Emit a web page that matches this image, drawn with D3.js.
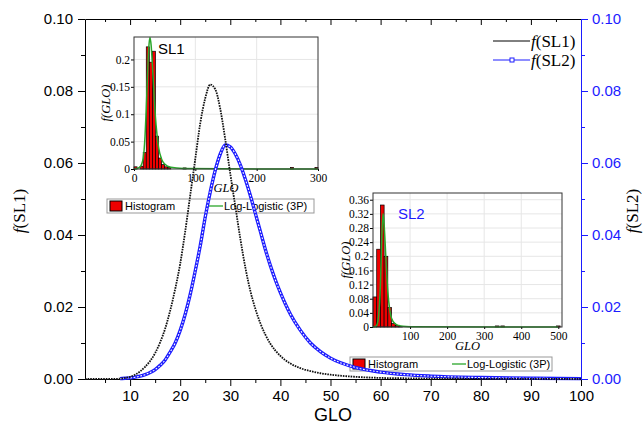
<!DOCTYPE html>
<html>
<head>
<meta charset="utf-8">
<script src="https://cdn.jsdelivr.net/npm/d3@7"></script>
<style>
    body { margin: 0; background: #fff; }
    svg { display: block; }
</style>
</head>
<body>
<script>
// main curves (GLO -> density)
const glo = [1, 6, 8, 9, 10, 11, 12, 13, 14, 15, 16, 17, 18, 19, 20, 21, 22, 23, 24, 25, 26, 27, 28, 29, 30,
    31, 32, 33, 34, 35, 36, 37, 38, 39, 40, 42, 44, 46, 48, 50, 55, 60, 65, 70, 80, 90, 100];
const fSL1 = [0, 0, 0.0001, 0.0003, 0.0006, 0.0012, 0.0021, 0.0034, 0.005, 0.0072, 0.0102, 0.014, 0.019, 0.025,
    0.032, 0.041, 0.051, 0.061, 0.071, 0.078, 0.0818, 0.0805, 0.075, 0.0665, 0.057, 0.048, 0.039, 0.031, 0.0245,
    0.0195, 0.0155, 0.0123, 0.0098, 0.0079, 0.0064, 0.0043, 0.003, 0.0022, 0.0016, 0.0012, 0.0006, 0.0003,
    0.0002, 0.0001, 0.00005, 0, 0];
const fSL2 = [0, 0, 0.0001, 0.0002, 0.0003, 0.0005, 0.0008, 0.0012, 0.0018, 0.0026, 0.0038, 0.0053, 0.0075, 0.010,
    0.0135, 0.018, 0.0235, 0.030, 0.037, 0.045, 0.052, 0.058, 0.0625, 0.065, 0.0645, 0.0625, 0.0595, 0.0555,
    0.051, 0.046, 0.041, 0.036, 0.0315, 0.0275, 0.024, 0.018, 0.0135, 0.010, 0.0076, 0.0058, 0.0032, 0.0019,
    0.0012, 0.0008, 0.0004, 0.0002, 0.0001];

// inset SL1 histogram (bin start, bin width 5) and fit
const hist1Bins = [0, 10, 15, 20, 25, 30, 35, 40, 45, 50, 55, 80, 255, 295];
const hist1Vals = [0.004, 0.005, 0.03, 0.223, 0.195, 0.215, 0.06, 0.02, 0.008, 0.004, 0.003, 0.002, 0.003, 0.003];
const fit1X = [0, 5, 10, 15, 18, 20, 22, 24, 26, 28, 30, 32, 34, 36, 40, 45, 50, 60, 80, 150, 300];
const fit1Y = [0, 0.001, 0.004, 0.02, 0.06, 0.11, 0.17, 0.22, 0.24, 0.225, 0.19, 0.15, 0.11, 0.08, 0.04, 0.018,
    0.009, 0.003, 0.001, 0.0003, 0];

// inset SL2 histogram (bin start, bin width 10) and fit
const hist2Bins = [0, 10, 20, 30, 40, 50, 60, 70, 330, 345, 495];
const hist2Vals = [0.085, 0.22, 0.345, 0.20, 0.055, 0.01, 0.004, 0.002, 0.003, 0.003, 0.003];
const fit2X = [0, 5, 10, 15, 20, 24, 27, 30, 35, 40, 45, 50, 60, 70, 80, 100, 500];
const fit2Y = [0, 0.001, 0.005, 0.03, 0.12, 0.26, 0.32, 0.29, 0.19, 0.10, 0.05, 0.025, 0.009, 0.004, 0.002, 0.001, 0];

const xTicks = d3.range(10, 101, 10);
const yTicks = [0, 0.02, 0.04, 0.06, 0.08, 0.10];
const inset1YTicks = [0, 0.05, 0.1, 0.15, 0.2];
const inset2YTicks = [0, 0.04, 0.08, 0.12, 0.16, 0.2, 0.24, 0.28, 0.32, 0.36];

const sans = "'Liberation Sans', Arial, sans-serif";
const serif = "'Liberation Serif', 'Times New Roman', serif";
const blue = "#1c1cff";

let svg = d3.select("body").append("svg")
    .attr("width", 643)
    .attr("height", 441);

// main scales
let x = d3.scaleLinear().domain([1, 100]).range([85, 581]);
let y = d3.scaleLinear().domain([0, 0.1]).range([379, 19]);

//Insets first, main curves go over them
function inset(opts) {
    let g = svg.append("g");
    let xs = d3.scaleLinear().domain(opts.xDomain).range(opts.xRange);
    let ys = d3.scaleLinear().domain(opts.yDomain).range(opts.yRange);

    g.append("rect")
        .attr("x", opts.xRange[0]).attr("y", opts.yRange[1])
        .attr("width", opts.xRange[1] - opts.xRange[0])
        .attr("height", opts.yRange[0] - opts.yRange[1])
        .attr("fill", "#fff");

    // grid
    g.selectAll(".gx").data(opts.xGrid).join("line")
        .attr("class", "gx")
        .attr("x1", (d) => xs(d)).attr("x2", (d) => xs(d))
        .attr("y1", opts.yRange[0]).attr("y2", opts.yRange[1])
        .attr("stroke", "#e6e6e6");
    g.selectAll(".gy").data(opts.yTicks.slice(1)).join("line")
        .attr("class", "gy")
        .attr("x1", opts.xRange[0]).attr("x2", opts.xRange[1])
        .attr("y1", (d) => ys(d)).attr("y2", (d) => ys(d))
        .attr("stroke", "#e6e6e6");

    // histogram
    g.selectAll(".bar").data(opts.bins).join("rect")
        .attr("class", "bar")
        .attr("x", (d) => xs(d))
        .attr("width", (d) => xs(d + opts.binW) - xs(d))
        .attr("y", (d, i) => ys(opts.vals[i]))
        .attr("height", (d, i) => ys(0) - ys(opts.vals[i]))
        .attr("fill", "#ee0000")
        .attr("stroke", "#000")
        .attr("stroke-width", 0.7);

    // fit line
    let line = d3.line()
        .x((d) => xs(d[0]))
        .y((d) => ys(d[1]))
        .curve(d3.curveMonotoneX);
    g.append("path")
        .datum(d3.zip(opts.fitX, opts.fitY))
        .attr("d", line)
        .attr("fill", "none")
        .attr("stroke", "#2aa62a")
        .attr("stroke-width", 1.5);

    // axes
    let xAx = g.append("g")
        .attr("transform", `translate(0,${opts.yRange[0]})`)
        .call(d3.axisBottom(xs).tickValues(opts.xTicks).tickSize(2).tickFormat(d3.format("d")));
    let yAx = g.append("g")
        .attr("transform", `translate(${opts.xRange[0]},0)`)
        .call(d3.axisLeft(ys).tickValues(opts.yTicks).tickSize(3).tickPadding(1).tickFormat((d) => d3.format("~g")(d)));
    [xAx, yAx].forEach((a) => {
        a.select(".domain").remove();
        a.selectAll("text").attr("font-family", serif).attr("font-size", "11.5px").attr("fill", "#000");
        a.selectAll("line").attr("stroke", "#000");
    });

    g.append("rect")
        .attr("x", opts.xRange[0]).attr("y", opts.yRange[1])
        .attr("width", opts.xRange[1] - opts.xRange[0])
        .attr("height", opts.yRange[0] - opts.yRange[1])
        .attr("fill", "none")
        .attr("stroke", "#333")
        .attr("stroke-width", 1);

    g.append("text")
        .attr("x", (opts.xRange[0] + opts.xRange[1]) / 2)
        .attr("y", opts.xLabelY)
        .attr("text-anchor", "middle")
        .attr("font-family", serif).attr("font-style", "italic").attr("font-size", "12.5px")
        .text("GLO");
    g.append("text")
        .attr("transform", `translate(${opts.yLabelX},${(opts.yRange[0] + opts.yRange[1]) / 2}) rotate(-90)`)
        .attr("text-anchor", "middle")
        .attr("font-family", serif).attr("font-style", "italic").attr("font-size", "12.5px")
        .text("f(GLO)");

    g.append("text")
        .attr("x", opts.titleX).attr("y", opts.titleY)
        .attr("font-family", sans).attr("font-size", "15px")
        .attr("fill", opts.titleColor)
        .text(opts.title);

    // legend
    let L = opts.legend;
    g.append("rect")
        .attr("x", L.x).attr("y", L.y).attr("width", L.w).attr("height", 14)
        .attr("fill", "#fff").attr("stroke", "#999");
    g.append("rect")
        .attr("x", L.x + 3).attr("y", L.y + 2).attr("width", 12).attr("height", 10)
        .attr("fill", "#ee0000").attr("stroke", "#000");
    g.append("text")
        .attr("x", L.x + 18).attr("y", L.y + 11)
        .attr("font-family", sans).attr("font-size", "11px")
        .text("Histogram");
    g.append("line")
        .attr("x1", L.lx).attr("x2", L.lx + 14).attr("y1", L.y + 7).attr("y2", L.y + 7)
        .attr("stroke", "#2aa62a").attr("stroke-width", 1.3);
    g.append("text")
        .attr("x", L.lx + 15).attr("y", L.y + 11)
        .attr("font-family", sans).attr("font-size", "11px")
        .text("Log-Logistic (3P)");
}

inset({
    xDomain: [0, 300], xRange: [134, 318],
    yDomain: [0, 0.241], yRange: [169, 37],
    xTicks: [0, 100, 200, 300], xGrid: [100, 200],
    yTicks: inset1YTicks,
    bins: hist1Bins, vals: hist1Vals, binW: 5,
    fitX: fit1X, fitY: fit1Y,
    xLabelY: 192, yLabelX: 110,
    title: "SL1", titleX: 158, titleY: 54, titleColor: "#000",
    legend: {x: 107, y: 199, w: 207, lx: 209}
});

inset({
    xDomain: [0, 510], xRange: [373, 562],
    yDomain: [0, 0.379], yRange: [327, 193],
    xTicks: [100, 200, 300, 400, 500], xGrid: [100, 200, 300, 400],
    yTicks: inset2YTicks,
    bins: hist2Bins, vals: hist2Vals, binW: 10,
    fitX: fit2X, fitY: fit2Y,
    xLabelY: 350, yLabelX: 350,
    title: "SL2", titleX: 398, titleY: 219, titleColor: blue,
    legend: {x: 350, y: 357, w: 202, lx: 452}
});

//Create main axes
let bottomAx = svg.append("g")
    .attr("transform", `translate(0,${y(0)})`)
    .call(d3.axisBottom(x).tickValues(xTicks).tickSize(7).tickPadding(4).tickSizeOuter(0));
bottomAx.selectAll("text").attr("font-family", sans).attr("font-size", "15px");
svg.append("g")
    .attr("transform", `translate(0,${y(0)})`)
    .call(d3.axisBottom(x).tickValues(d3.range(5, 100, 10)).tickSize(4).tickFormat(""))
    .select(".domain").remove();

svg.append("g")
    .attr("transform", `translate(0,${y(0.1)})`)
    .call(d3.axisBottom(x).tickValues(xTicks).tickSize(6).tickFormat("").tickSizeOuter(0));
svg.append("g")
    .attr("transform", `translate(0,${y(0.1)})`)
    .call(d3.axisBottom(x).tickValues(d3.range(5, 100, 10)).tickSize(3).tickFormat(""))
    .select(".domain").remove();

let leftAx = svg.append("g")
    .attr("transform", `translate(${x(1)},0)`)
    .call(d3.axisLeft(y).tickValues(yTicks).tickSize(7).tickPadding(5).tickSizeOuter(0).tickFormat(d3.format(".2f")));
leftAx.selectAll("text").attr("font-family", sans).attr("font-size", "15px");
svg.append("g")
    .attr("transform", `translate(${x(1)},0)`)
    .call(d3.axisLeft(y).tickValues([0.01, 0.03, 0.05, 0.07, 0.09]).tickSize(4).tickFormat(""))
    .select(".domain").remove();

let rightAx = svg.append("g")
    .attr("transform", `translate(${x(100)},0)`)
    .call(d3.axisRight(y).tickValues(yTicks).tickSize(7).tickPadding(4).tickSizeOuter(0).tickFormat(d3.format(".2f")));
rightAx.selectAll("text").attr("font-family", sans).attr("font-size", "15px").attr("fill", blue);
rightAx.selectAll("line, .domain").attr("stroke", blue);
svg.append("g")
    .attr("transform", `translate(${x(100)},0)`)
    .call(d3.axisRight(y).tickValues([0.01, 0.03, 0.05, 0.07, 0.09]).tickSize(4).tickFormat(""))
    .call((a) => a.select(".domain").remove())
    .selectAll("line").attr("stroke", blue);

//Axis titles
svg.append("text")
    .attr("x", (x(1) + x(100)) / 2).attr("y", 421)
    .attr("text-anchor", "middle")
    .attr("font-family", sans).attr("font-size", "18px")
    .text("GLO");

function fLabel(sel, txt) {
    sel.append("tspan").attr("font-style", "italic").text("f");
    sel.append("tspan").text(txt);
}
svg.append("text")
    .attr("transform", "translate(25,211) rotate(-90)")
    .attr("text-anchor", "middle")
    .attr("font-family", serif).attr("font-size", "17px")
    .call(fLabel, "(SL1)");
svg.append("text")
    .attr("transform", "translate(638,211) rotate(-90)")
    .attr("text-anchor", "middle")
    .attr("font-family", serif).attr("font-size", "17px")
    .call(fLabel, "(SL2)");

//Main curves
let mainLine = d3.line()
    .x((d) => x(d[0]))
    .y((d) => y(d[1]))
    .curve(d3.curveMonotoneX);

let sl2 = d3.zip(glo, fSL2).filter((d) => d[0] >= 8);
svg.append("path")
    .datum(sl2)
    .attr("d", mainLine)
    .attr("fill", "none")
    .attr("stroke", blue)
    .attr("stroke-width", 3.4);
svg.append("path")
    .datum(sl2)
    .attr("d", mainLine)
    .attr("fill", "none")
    .attr("stroke", "#fff")
    .attr("stroke-width", 1.1)
    .attr("stroke-dasharray", "1.8,1.6");

svg.append("path")
    .datum(d3.zip(glo, fSL1))
    .attr("d", mainLine)
    .attr("fill", "none")
    .attr("stroke", "#111")
    .attr("stroke-width", 1.8)
    .attr("stroke-dasharray", "1.6,1");

//Legend
let leg = svg.append("g");
leg.append("line").attr("x1", 493).attr("x2", 530).attr("y1", 41).attr("y2", 41)
    .attr("stroke", "#000");
leg.append("text").attr("x", 531).attr("y", 46.5)
    .attr("font-family", serif).attr("font-size", "17px")
    .call(fLabel, "(SL1)");
leg.append("line").attr("x1", 493).attr("x2", 530).attr("y1", 60).attr("y2", 60)
    .attr("stroke", blue);
leg.append("rect").attr("x", 510).attr("y", 58).attr("width", 4).attr("height", 4)
    .attr("fill", "#fff").attr("stroke", blue);
leg.append("text").attr("x", 531).attr("y", 65.5)
    .attr("font-family", serif).attr("font-size", "17px")
    .call(fLabel, "(SL2)");
</script>
</body>
</html>
